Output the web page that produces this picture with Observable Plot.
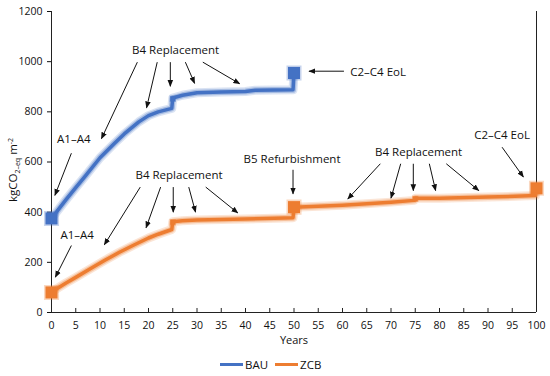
<!DOCTYPE html>
<html><head><meta charset="utf-8">
<script src="https://cdn.jsdelivr.net/npm/d3@7"></script>
<script src="https://cdn.jsdelivr.net/npm/@observablehq/plot@0.6"></script>
<style>
body{margin:0;background:#fff;font-family:"Open Sans",sans-serif;}
#chart{position:relative;width:550px;height:376px;overflow:hidden;}
.legend{position:absolute;top:357px;left:220px;display:flex;align-items:center;font-size:11.5px;color:#111;}
.legend .sw{display:inline-block;width:23px;height:3px;margin-right:2px;}
.legend .it{display:flex;align-items:center;margin-right:7px;}
</style></head><body><div id="chart"></div>
<script>
// Series (year, kgCO2-eq/m2)
const bauYears  = [0, 1, 3, 5, 7, 10, 13, 15, 18, 20, 22, 24.8, 25, 27, 30, 35, 40, 42, 49.8, 50];
const bauValues = [375, 400, 450, 498, 545, 617, 675, 712, 760, 785, 800, 814, 855, 866, 876, 879, 881, 886, 888, 955];
const zcbYears  = [0, 1, 3, 5, 8, 11, 14, 17, 20, 22, 24.8, 25, 27, 30, 40, 48, 49.8, 50, 60, 70, 74.8, 75, 80, 90, 99.8, 100];
const zcbValues = [80, 94, 118, 140, 174, 208, 240, 269, 297, 312, 331, 362, 366, 369, 373, 377, 378, 420, 428, 440, 447, 455, 455, 460, 466, 495];
// Big square markers (stage points)
const bauMarkYears = [0, 50];
const bauMarkValues = [375, 955];
const zcbMarkYears = [0, 50, 100];
const zcbMarkValues = [80, 420, 495];
// Small bumps at replacement steps
const bumpSeries = ["BAU", "ZCB", "ZCB"];
const bumpYears  = [25, 25, 75];
const bumpValues = [852, 360, 453];
// Annotation labels (centred)
const labelTexts  = ["A1–A4", "B4 Replacement", "A1–A4", "B4 Replacement", "B5 Refurbishment", "B4 Replacement", "C2–C4 EoL"];
const labelYears  = [4.6, 25.6, 5.3, 26.3, 49.6, 75.7, 92.9];
const labelValues = [689, 1045, 307, 546, 609, 637, 706];
// Annotation label (left-aligned)
const startLabelTexts  = ["C2–C4 EoL"];
const startLabelYears  = [61.6];
const startLabelValues = [958];
// Arrows: from (x1,y1) to (x2,y2)
const arrowX1 = [4.1, 17.7, 21.8, 24.5, 27.6, 31.2, 60.3, 4.1, 18.3, 22.5, 25.1, 28.3, 31.8, 49.8, 67.8, 72.0, 74.6, 77.9, 81.4, 92.9];
const arrowY1 = [635, 998, 998, 998, 998, 998, 962, 267, 500, 500, 500, 500, 500, 569, 593, 593, 593, 593, 593, 659];
const arrowX2 = [0.7, 10.3, 19.6, 24.5, 29.5, 38.8, 53.1, 0.8, 10.9, 19.5, 25.1, 29.7, 38.4, 49.8, 61.1, 70.0, 74.6, 79.2, 88.1, 97.3];
const arrowY2 = [467, 693, 816, 902, 914, 912, 962, 141, 270, 338, 400, 400, 397, 473, 453, 456, 486, 486, 486, 540];
const xTicks = d3.range(0, 101, 5);
const yTicks = [0, 200, 400, 600, 800, 1000, 1200];

const BLUE = "#4472c4", ORANGE = "#ed7d31";
const bau = bauYears.map((x, i) => ({x, y: bauValues[i]}));
const zcb = zcbYears.map((x, i) => ({x, y: zcbValues[i]}));
const bauMarks = bauMarkYears.map((x, i) => ({x, y: bauMarkValues[i]}));
const zcbMarks = zcbMarkYears.map((x, i) => ({x, y: zcbMarkValues[i]}));
const bumps = bumpYears.map((x, i) => ({s: bumpSeries[i], x, y: bumpValues[i]}));
const labels = labelTexts.map((t, i) => ({t, x: labelYears[i], y: labelValues[i]}));
const startLabels = startLabelTexts.map((t, i) => ({t, x: startLabelYears[i], y: startLabelValues[i]}));
const arrows = arrowX1.map((x1, i) => ({x1, y1: arrowY1[i], x2: arrowX2[i], y2: arrowY2[i]}));
const FONT = "Open Sans";

const plot = Plot.plot({
  width: 550, height: 354,
  marginLeft: 51, marginRight: 14, marginTop: 11, marginBottom: 42,
  style: {fontFamily: FONT, fontSize: "10.5px", color: "#111", background: "white"},
  x: {domain: [0, 100], ticks: xTicks, tickSize: 0, tickPadding: 9, label: null},
  y: {domain: [0, 1200], ticks: yTicks, tickSize: 4, tickPadding: 5, tickFormat: d => String(d), label: null},
  marks: [
    Plot.ruleX(xTicks, {x: d => d, y1: 0, y2: 16, stroke: "#222"}),
    Plot.ruleY([0], {stroke: "#222"}),
    Plot.ruleX([0, 100], {y1: 0, y2: 1200, stroke: "#222"}),
    Plot.line(bau, {x: "x", y: "y", stroke: BLUE, strokeWidth: 9, strokeOpacity: 0.2, strokeLinejoin: "round"}),
    Plot.line(bau, {x: "x", y: "y", stroke: BLUE, strokeWidth: 6, strokeOpacity: 0.35, strokeLinejoin: "round"}),
    Plot.line(bau, {x: "x", y: "y", stroke: BLUE, strokeWidth: 3.5, strokeLinejoin: "round"}),
    Plot.line(zcb, {x: "x", y: "y", stroke: ORANGE, strokeWidth: 9, strokeOpacity: 0.2, strokeLinejoin: "round"}),
    Plot.line(zcb, {x: "x", y: "y", stroke: ORANGE, strokeWidth: 6, strokeOpacity: 0.35, strokeLinejoin: "round"}),
    Plot.line(zcb, {x: "x", y: "y", stroke: ORANGE, strokeWidth: 3.5, strokeLinejoin: "round"}),
    Plot.dot(bumps, {x: "x", y: "y", symbol: "square", r: 2.8, fill: d => d.s === "BAU" ? BLUE : ORANGE, stroke: d => d.s === "BAU" ? BLUE : ORANGE, strokeWidth: 1.5, strokeOpacity: 0.4}),
    Plot.dot(bauMarks, {x: "x", y: "y", symbol: "square", r: 6.8, fill: BLUE, stroke: BLUE, strokeWidth: 3, strokeOpacity: 0.3}),
    Plot.dot(zcbMarks, {x: "x", y: "y", symbol: "square", r: 6.8, fill: ORANGE, stroke: ORANGE, strokeWidth: 3, strokeOpacity: 0.3}),
    Plot.link(arrows, {x1: "x1", y1: "y1", x2: "x2", y2: "y2", stroke: "#111", strokeWidth: 1}),
    Plot.text(labels, {x: "x", y: "y", text: "t", fontFamily: FONT, fontSize: 11.5, fill: "#111"}),
    Plot.text(startLabels, {x: "x", y: "y", text: "t", textAnchor: "start", fontFamily: FONT, fontSize: 11.5, fill: "#111"}),
    Plot.text(["Years"], {frameAnchor: "bottom", dy: 31, fontFamily: FONT, fontSize: 11, fill: "#111"})
  ]
});
const svg = d3.select(plot);
// arrowheads
const defs = svg.append("defs");
defs.append("marker").attr("id", "ah").attr("viewBox", "0 0 10 10").attr("refX", 9).attr("refY", 5)
  .attr("markerWidth", 7).attr("markerHeight", 7).attr("markerUnits", "userSpaceOnUse").attr("orient", "auto")
  .append("path").attr("d", "M0,1L10,5L0,9z").attr("fill", "#111");
svg.selectAll('g[aria-label="link"] path').attr("marker-end", "url(#ah)");
// y-axis title with sub/superscript
const yt = svg.append("text").attr("transform", "translate(17,170) rotate(-90)")
  .attr("text-anchor", "middle").attr("font-family", FONT).attr("font-size", 11.5).attr("fill", "#111");
yt.append("tspan").text("kgCO");
yt.append("tspan").attr("font-size", 7).attr("dy", 3).text("2–eq");
yt.append("tspan").attr("dy", -3).text(" m");
yt.append("tspan").attr("font-size", 7).attr("dy", -4).text("-2");
const chart = document.getElementById("chart");
chart.appendChild(plot);
const lg = document.createElement("div");
lg.className = "legend";
lg.innerHTML = `<span class="it"><span class="sw" style="background:${BLUE}"></span>BAU</span><span class="it"><span class="sw" style="background:${ORANGE}"></span>ZCB</span>`;
chart.appendChild(lg);
</script>
</body></html>
